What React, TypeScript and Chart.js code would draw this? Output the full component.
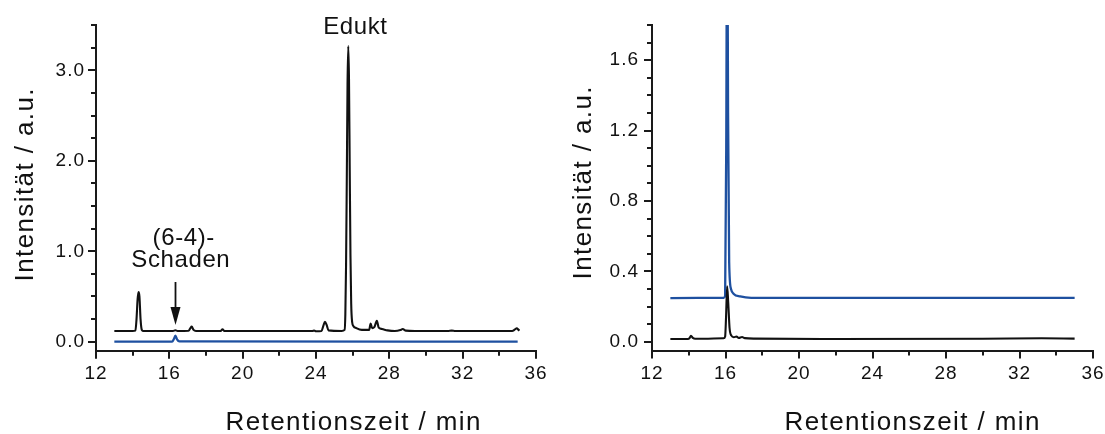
import React, { useEffect, useRef } from "react";
import { Chart, registerables } from "chart.js";

Chart.register(...registerables);

// ---------------- DATA ----------------
// Left panel: retention time (min), intensity (a.u.)
const leftBlackTrace: [number, number][] = [
  [13.0, 0.118], [14.0, 0.118], [14.15, 0.122], [14.21, 0.25], [14.27, 0.47], [14.32, 0.55],
  [14.37, 0.5], [14.43, 0.25], [14.5, 0.13], [14.6, 0.118], [16.2, 0.118], [16.33, 0.126],
  [16.45, 0.118], [17.05, 0.12], [17.15, 0.15], [17.22, 0.166], [17.32, 0.13], [17.45, 0.118],
  [18.8, 0.118], [18.9, 0.137], [19.0, 0.118], [23.8, 0.118], [23.9, 0.124], [24.0, 0.115],
  [24.3, 0.118], [24.4, 0.175], [24.49, 0.22], [24.58, 0.185], [24.68, 0.125], [25.4, 0.118],
  [25.56, 0.13], [25.6, 0.3], [25.64, 0.85], [25.68, 1.8], [25.72, 2.85], [25.76, 3.27],
  [25.8, 2.9], [25.84, 1.9], [25.88, 0.95], [25.92, 0.42], [25.97, 0.22], [26.05, 0.17],
  [26.2, 0.15], [26.5, 0.13], [26.9, 0.13], [26.98, 0.2], [27.06, 0.15], [27.18, 0.16],
  [27.32, 0.23], [27.42, 0.155], [27.6, 0.14], [27.9, 0.125], [28.3, 0.118], [28.6, 0.128],
  [28.73, 0.14], [28.9, 0.122], [29.4, 0.118], [31.2, 0.118], [31.4, 0.122], [31.6, 0.118],
  [34.7, 0.118], [34.85, 0.135], [34.95, 0.148], [35.05, 0.13], [35.1, 0.122],
];
const leftBlueTrace: [number, number][] = [
  [13.0, 0.0], [16.15, 0.0], [16.25, 0.03], [16.33, 0.066], [16.42, 0.025], [16.55, 0.003],
  [35.0, 0.0],
];

// Right panel
const rightBlackTrace: [number, number][] = [
  [13.0, 0.016], [13.95, 0.016], [14.05, 0.022], [14.12, 0.034], [14.22, 0.022], [14.35, 0.017],
  [15.9, 0.02], [15.98, 0.03], [16.03, 0.14], [16.09, 0.316], [16.15, 0.22], [16.22, 0.08],
  [16.32, 0.035], [16.45, 0.026], [16.6, 0.03], [16.72, 0.022], [16.9, 0.027], [17.05, 0.021],
  [17.6, 0.018], [22.0, 0.016], [30.0, 0.017], [33.2, 0.02], [35.0, 0.018],
];
const rightBlueTrace: [number, number][] = [
  [13.0, 0.248], [15.9, 0.25], [15.98, 0.262], [16.04, 1.1], [16.09, 2.6], [16.14, 1.3],
  [16.2, 0.45], [16.3, 0.3], [16.45, 0.272], [16.8, 0.258], [17.4, 0.25], [35.0, 0.25],
];

// Axis ticks (labelled)
const xTickValues = [12, 16, 20, 24, 28, 32, 36];
const leftYTickValues = [0, 1, 2, 3];
const rightYTickValues = [0, 0.4, 0.8, 1.2, 1.6];

// Axis titles and annotation texts
const xTitle = "Retentionszeit / min";
const yTitle = "Intensität / a.u.";
const eduktLabel = "Edukt";
const damageLabelLine1 = "(6-4)-";
const damageLabelLine2 = "Schaden";

// ---------------- STYLE ----------------
const FONT = '"Liberation Sans", Arial, Helvetica, sans-serif';
const AXIS_COLOR = "#1a1a1a";
const TEXT_COLOR = "#111111";
const BLACK = "#111111";
const BLUE = "#1e50a0";
const W = 1105;
const H = 434;

type Annot = (chart: any, ctx: CanvasRenderingContext2D) => void;

interface PanelCfg {
  width: number;
  yMin: number;
  yMax: number;
  yTicks: number[];
  yMinorStep: number;
  yMinorCount: number;
  yMajorEvery: number;
  yAxisWidth: number;
  padTop: number;
  padRight: number;
  chartBottom: number;
  yLabelPad: number;
  xTitleCenter: number;
  yTitleX: number;
  yTitleY: number;
  series: { data: [number, number][]; color: string; width: number }[];
  annot?: Annot;
}

function drawSpacedText(
  ctx: CanvasRenderingContext2D,
  text: string,
  x: number,
  y: number,
  font: string,
  spacing: number
) {
  ctx.font = font;
  (ctx as any).letterSpacing = spacing + "px";
  const w = ctx.measureText(text).width - spacing;
  ctx.textAlign = "left";
  ctx.textBaseline = "alphabetic";
  ctx.fillText(text, x - w / 2, y);
}

function decorPlugin(cfg: PanelCfg) {
  return {
    id: "decor",
    beforeDraw(chart: any) {
      (chart.ctx as any).letterSpacing = "1px";
    },
    afterDraw(chart: any) {
      const ctx: CanvasRenderingContext2D = chart.ctx;
      const xs = chart.scales.x;
      const ys = chart.scales.y;
      const area = chart.chartArea;
      ctx.save();
      ctx.strokeStyle = AXIS_COLOR;
      ctx.lineWidth = 2;
      ctx.lineCap = "butt";
      ctx.beginPath();
      // x tick marks: major every 4, minor every 2
      for (let v = 12; v <= 36; v += 2) {
        const px = Math.round(xs.getPixelForValue(v));
        const len = (v - 12) % 4 === 0 ? 8 : 5;
        ctx.moveTo(px, area.bottom);
        ctx.lineTo(px, area.bottom + len);
      }
      // y tick marks
      for (let i = 0; i <= cfg.yMinorCount; i++) {
        const v = i * cfg.yMinorStep;
        const py = Math.round(ys.getPixelForValue(v));
        const len = i % cfg.yMajorEvery === 0 ? 8 : 5;
        ctx.moveTo(area.left, py);
        ctx.lineTo(area.left - len, py);
      }
      ctx.stroke();

      // axis titles
      ctx.fillStyle = TEXT_COLOR;
      const titleFont = `26px ${FONT}`;
      drawSpacedText(ctx, xTitle, cfg.xTitleCenter, 430, titleFont, 1.4);
      ctx.save();
      ctx.translate(cfg.yTitleX, cfg.yTitleY);
      ctx.rotate(-Math.PI / 2);
      drawSpacedText(ctx, yTitle, 0, 0, titleFont, 1.4);
      ctx.restore();

      if (cfg.annot) cfg.annot(chart, ctx);
      ctx.restore();
    },
  };
}

// Annotation positions (data coordinates) for the left panel
const leftAnnot: Annot = (chart, ctx) => {
  const xs = chart.scales.x;
  const ys = chart.scales.y;
  const f = `24px ${FONT}`;
  ctx.fillStyle = TEXT_COLOR;
  drawSpacedText(ctx, eduktLabel, xs.getPixelForValue(26.13), ys.getPixelForValue(3.4), f, 0.6);
  drawSpacedText(ctx, damageLabelLine1, xs.getPixelForValue(16.77), ys.getPixelForValue(1.07), f, 0.6);
  drawSpacedText(ctx, damageLabelLine2, xs.getPixelForValue(16.61), ys.getPixelForValue(0.83), f, 0.6);
  // arrow
  const ax = Math.round(xs.getPixelForValue(16.3)) + 0.5;
  const yTop = ys.getPixelForValue(0.66);
  const yTip = ys.getPixelForValue(0.185);
  const headLen = 18;
  ctx.strokeStyle = BLACK;
  ctx.lineWidth = 1.8;
  ctx.beginPath();
  ctx.moveTo(ax, yTop);
  ctx.lineTo(ax, yTip - headLen + 2);
  ctx.stroke();
  ctx.fillStyle = BLACK;
  ctx.beginPath();
  ctx.moveTo(ax - 5, yTip - headLen);
  ctx.lineTo(ax + 5, yTip - headLen);
  ctx.lineTo(ax, yTip);
  ctx.closePath();
  ctx.fill();
};

const leftCfg: PanelCfg = {
  width: 552,
  yMin: -0.1,
  yMax: 3.5,
  yTicks: leftYTickValues,
  yMinorStep: 0.25,
  yMinorCount: 14,
  yMajorEvery: 4,
  yAxisWidth: 96,
  padTop: 25.3,
  padRight: 16,
  chartBottom: 350.7,
  yLabelPad: 11,
  xTitleCenter: 353,
  yTitleX: 33,
  yTitleY: 185,
  series: [
    { data: leftBlackTrace, color: BLACK, width: 2.1 },
    { data: leftBlueTrace, color: BLUE, width: 2.3 },
  ],
  annot: leftAnnot,
};

const rightCfg: PanelCfg = {
  width: 553,
  yMin: -0.05,
  yMax: 1.8,
  yTicks: rightYTickValues,
  yMinorStep: 0.1,
  yMinorCount: 18,
  yMajorEvery: 4,
  yAxisWidth: 100,
  padTop: 25,
  padRight: 12,
  chartBottom: 350.6,
  yLabelPad: 13,
  xTitleCenter: 912 - 552,
  yTitleX: 591 - 552,
  yTitleY: 183,
  series: [
    { data: rightBlackTrace, color: BLACK, width: 2.1 },
    { data: rightBlueTrace, color: BLUE, width: 2.3 },
  ],
};

function Panel({ cfg, left }: { cfg: PanelCfg; left: number }) {
  const ref = useRef<HTMLCanvasElement | null>(null);
  useEffect(() => {
    if (!ref.current) return;
    const tickFont = { family: FONT, size: 19 };
    const chart = new Chart(ref.current, {
      type: "line",
      data: {
        datasets: cfg.series.map((s) => ({
          data: s.data.map(([x, y]) => ({ x, y })),
          borderColor: s.color,
          borderWidth: s.width,
          pointRadius: 0,
          cubicInterpolationMode: "monotone" as const,
          fill: false,
          clip: 0,
          borderJoinStyle: "round" as const,
        })),
      },
      options: {
        animation: false,
        responsive: false,
        devicePixelRatio: 1,
        events: [],
        layout: { padding: { left: 0, top: cfg.padTop, right: cfg.padRight, bottom: 0 } },
        plugins: { legend: { display: false }, tooltip: { enabled: false }, title: { display: false } },
        scales: {
          x: {
            type: "linear",
            min: 12,
            max: 36,
            afterBuildTicks: (s: any) => {
              s.ticks = xTickValues.map((v) => ({ value: v }));
            },
            afterFit: (s: any) => {
              s.height = H - cfg.chartBottom;
              s.paddingLeft = 0;
              s.paddingRight = 0;
            },
            ticks: {
              font: tickFont,
              color: TEXT_COLOR,
              padding: 12,
              maxRotation: 0,
              autoSkip: false,
              callback: (v: any) => String(v),
            },
            grid: { drawOnChartArea: false, drawTicks: false, color: "rgba(0,0,0,0)" },
            border: { display: true, color: AXIS_COLOR, width: 2 },
          },
          y: {
            type: "linear",
            min: cfg.yMin,
            max: cfg.yMax,
            afterBuildTicks: (s: any) => {
              s.ticks = cfg.yTicks.map((v) => ({ value: v }));
            },
            afterFit: (s: any) => {
              s.width = cfg.yAxisWidth;
              s.paddingTop = 0;
              s.paddingBottom = 0;
            },
            ticks: {
              font: tickFont,
              color: TEXT_COLOR,
              padding: cfg.yLabelPad,
              autoSkip: false,
              callback: (v: any) => Number(v).toFixed(1),
            },
            grid: { drawOnChartArea: false, drawTicks: false, color: "rgba(0,0,0,0)" },
            border: { display: true, color: AXIS_COLOR, width: 2 },
          },
        },
      },
      plugins: [decorPlugin(cfg)],
    } as any);
    return () => chart.destroy();
  }, [cfg]);
  return (
    <canvas
      ref={ref}
      width={cfg.width}
      height={H}
      style={{ position: "absolute", left, top: 0, width: cfg.width, height: H }}
    />
  );
}

export default function App() {
  return (
    <div
      style={{
        position: "absolute",
        left: 0,
        top: 0,
        width: W,
        height: H,
        background: "#ffffff",
        overflow: "hidden",
      }}
    >
      <Panel cfg={leftCfg} left={0} />
      <Panel cfg={rightCfg} left={552} />
    </div>
  );
}
